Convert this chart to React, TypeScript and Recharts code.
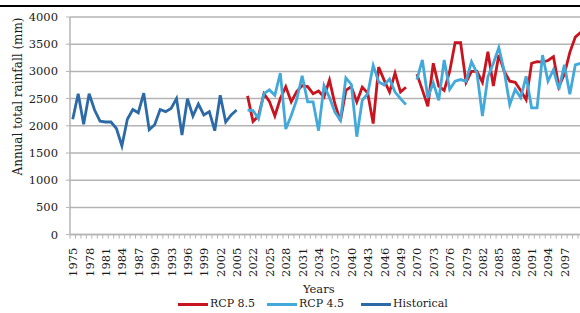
import { LineChart, Line, XAxis, YAxis, CartesianGrid, Legend } from 'recharts';

// annual totals (mm)
const historicalYears = [
  1975, 1976, 1977, 1978, 1979, 1980, 1981, 1982, 1983, 1984, 1985, 1986, 1987, 1988, 1989, 1990,
  1991, 1992, 1993, 1994, 1995, 1996, 1997, 1998, 1999, 2000, 2001, 2002, 2003, 2004, 2005,
];
const historical = [
  2120, 2590, 2030, 2590, 2290, 2085, 2070, 2070, 1950, 1630, 2120, 2300, 2240, 2600, 1930, 2020,
  2300, 2260, 2320, 2500, 1830, 2500, 2180, 2400, 2200, 2260, 1910, 2560, 2070, 2200, 2290,
];

const midYears = [
  2021, 2022, 2023, 2024, 2025, 2026, 2027, 2028, 2029, 2030, 2031, 2032, 2033, 2034, 2035,
  2036, 2037, 2038, 2039, 2040, 2041, 2042, 2043, 2044, 2045, 2046, 2047, 2048, 2049, 2050,
];
const rcp85Mid = [
  2550, 2080, 2180, 2590, 2450, 2180, 2500, 2720, 2440, 2630, 2740, 2720, 2590, 2640, 2530,
  2840, 2400, 2090, 2650, 2720, 2440, 2710, 2600, 2040, 3080, 2840, 2620, 2970, 2620, 2710,
];
const rcp45Mid = [
  2290, 2280, 2130, 2590, 2660, 2560, 2970, 1940, 2190, 2480, 2920, 2440, 2440, 1910, 2740,
  2520, 2250, 2100, 2880, 2760, 1800, 2470, 2590, 3110, 2810, 2750, 2860, 2620, 2500, 2390,
];

const farYears = [
  2070, 2071, 2072, 2073, 2074, 2075, 2076, 2077, 2078, 2079, 2080, 2081, 2082, 2083, 2084, 2085,
  2086, 2087, 2088, 2089, 2090, 2091, 2092, 2093, 2094, 2095, 2096, 2097, 2098, 2099, 2100,
];
const rcp85Far = [
  2950, 2660, 2360, 3150, 2730, 2650, 3000, 3530, 3530, 2800, 3000, 3000, 2800, 3360, 2730, 3300,
  3000, 2820, 2800, 2650, 2480, 3150, 3180, 3170, 3200, 3270, 2720, 2950, 3350, 3630, 3720,
];
const rcp45Far = [
  2850, 3210, 2520, 2790, 2470, 3210, 2670, 2820, 2850, 2820, 3180, 2970, 2180, 2900, 3150, 3440,
  3000, 2390, 2670, 2520, 2910, 2330, 2330, 3300, 2820, 3030, 2670, 3120, 2580, 3120, 3150,
];

const yTicks = [0, 500, 1000, 1500, 2000, 2500, 3000, 3500, 4000];

const row = (year: string, h: number | null, r85: number | null, r45: number | null) => ({
  year,
  historical: h,
  rcp85: r85,
  rcp45: r45,
});

const data = [
  ...historicalYears.map((y, i) => row(String(y), historical[i], null, null)),
  row(' ', null, null, null),
  ...midYears.map((y, i) => row(String(y), null, rcp85Mid[i], rcp45Mid[i])),
  row('  ', null, null, null),
  ...farYears.map((y, i) => row(String(y), null, rcp85Far[i], rcp45Far[i])),
];

const FONT = 'DejaVu Serif';
const GRID = '#b4b4b4';
const PLOT_W = 513.5;
const STEP = PLOT_W / data.length;
const VISIBLE_W = 580;

const legendLeft: Record<string, number> = { 'RCP 8.5': 178, 'RCP 4.5': 267, Historical: 361 };

const YearTick = (props: any) => {
  const { x, y, payload, index } = props;
  const tx = x + 4.5;
  const ty = y + 13;
  // the source figure is cropped on the right, so the last label falls off it
  const showLabel = index % 3 === 0 && tx < VISIBLE_W - 4;
  return (
    <g>
      <line x1={x - STEP / 2} y1={y} x2={x - STEP / 2} y2={y + 4} stroke={GRID} strokeWidth={1} />
      {showLabel && (
        <text
          x={tx}
          y={ty}
          transform={`rotate(-90 ${tx} ${ty})`}
          textAnchor="end"
          fontFamily={FONT}
          fontSize={11.5}
          fill="#1a1a1a"
        >
          {payload.value}
        </text>
      )}
    </g>
  );
};

const renderLegend = (props: any) => {
  const { payload } = props;
  return (
    <div style={{ position: 'relative', width: 590, height: 14 }}>
      {payload.map((entry: any) => (
        <div
          key={entry.value}
          style={{
            position: 'absolute',
            left: legendLeft[entry.value],
            top: 0,
            height: 14,
            lineHeight: '14px',
            display: 'flex',
            alignItems: 'center',
            fontFamily: FONT,
            fontSize: 11,
            color: '#1a1a1a',
            whiteSpace: 'nowrap',
          }}
        >
          <span style={{ display: 'inline-block', width: 30, height: 3, background: entry.color, marginRight: 2 }} />
          {entry.value}
        </div>
      ))}
    </div>
  );
};

export default function App() {
  return (
    <div style={{ position: 'fixed', left: 0, top: 0, width: VISIBLE_W, height: 313, overflow: 'hidden', background: '#fff' }}>
      <div style={{ position: 'absolute', left: 0, top: 5, width: VISIBLE_W, height: 1.5, background: '#000' }} />
      <LineChart width={590} height={313} data={data} margin={{ top: 17, right: 6.5, left: 8, bottom: 38.4 }}>
        <CartesianGrid vertical={false} stroke={GRID} strokeWidth={1.5} />
        <XAxis
          dataKey="year"
          interval={0}
          padding={{ left: STEP / 2, right: STEP / 2 }}
          height={40}
          tickSize={0}
          tickMargin={0}
          tickLine={false}
          axisLine={{ stroke: GRID, strokeWidth: 1.5 }}
          tick={<YearTick />}
          label={{
            value: 'Years',
            content: (p: any) => (
              <text
                x={p.viewBox.x + p.viewBox.width / 2 - 8}
                y={p.viewBox.y + 58}
                textAnchor="middle"
                fontFamily={FONT}
                fontSize={11.5}
                fill="#1a1a1a"
              >
                Years
              </text>
            ),
          }}
        />
        <YAxis
          domain={[0, 4000]}
          ticks={yTicks}
          width={62}
          tickSize={4}
          tickMargin={8}
          tickLine={{ stroke: GRID }}
          axisLine={{ stroke: GRID, strokeWidth: 1.5 }}
          tick={{ fontFamily: FONT, fontSize: 11.5, fill: '#1a1a1a' }}
          label={{
            value: 'Annual total rainfall (mm)',
            content: () => (
              <text
                x={22}
                y={96.5}
                transform="rotate(-90 22 96.5)"
                textAnchor="middle"
                fontFamily={FONT}
                fontSize={12}
                fill="#1a1a1a"
              >
                Annual total rainfall (mm)
              </text>
            ),
          }}
        />
        <Legend
          layout="horizontal"
          verticalAlign="middle"
          align="center"
          content={renderLegend}
          wrapperStyle={{ left: 0, top: 297, width: 590, height: 14 }}
        />
        <Line name="RCP 8.5" dataKey="rcp85" stroke="#c8141e" strokeWidth={2.8} dot={false} isAnimationActive={false} />
        <Line name="RCP 4.5" dataKey="rcp45" stroke="#42a9da" strokeWidth={2.8} dot={false} isAnimationActive={false} />
        <Line name="Historical" dataKey="historical" stroke="#2b6aa6" strokeWidth={2.8} dot={false} isAnimationActive={false} />
      </LineChart>
    </div>
  );
}
